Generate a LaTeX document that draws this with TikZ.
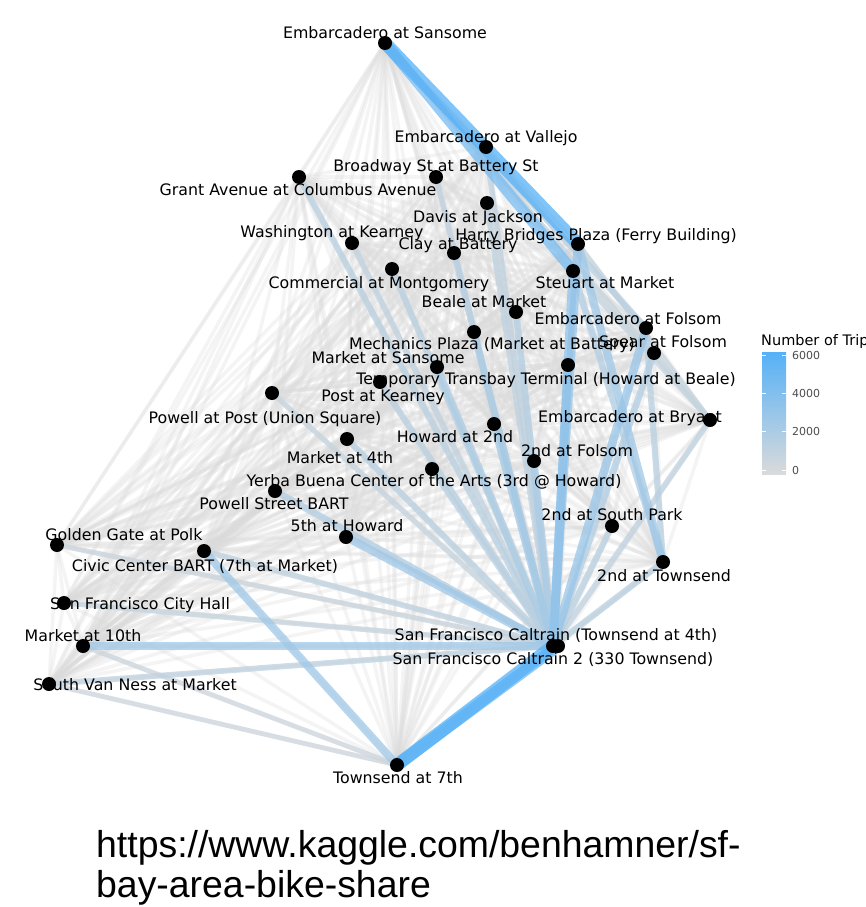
\documentclass[tikz,border=0pt]{standalone}
\usepackage{fontspec}
\setmainfont{DejaVu Sans}
\newfontfamily\urlfont{Liberation Sans}
\usetikzlibrary{positioning}
\definecolor{tripLo}{HTML}{DADADA}
\definecolor{tripHi}{HTML}{56B1F7}
\tikzset{
  stn/.style={circle,fill=black,inner sep=0pt,minimum size=14pt},
  lbl/.style={font=\fontsize{15.8}{18}\selectfont,inner sep=0pt,text height=0.7em,text depth=0pt,yshift=-2.5pt},
  mesh/.style={draw=tripLo,draw opacity=0.3,line width=3.5pt},
  trip/.style={draw=tripHi!#1!tripLo,draw opacity=0.75,line width={4pt+0.09pt*#1}},
  tick/.style={font=\fontsize{11}{13}\selectfont,inner sep=0pt,text=black!70},
  url/.style={font=\urlfont\fontsize{37.4}{40}\selectfont,inner sep=0pt},
}
\def\stns{EmbSan,EmbVal,Broad,Grant,Davis,Wash,Clay,Ferry,Comm,Steu,Beale,EmbFol,Mech,Spear,MktSan,Trans,PostK,PowPost,EmbBry,How2,Mkt4,Fol2,Yerba,PowBart,SoPark,How5,GGate,Civic,Town2,Hall,Mkt10,Cal,CalB,SVN,Town7}
\begin{document}
\begin{tikzpicture}[x=1pt,y=-1pt]
   \useasboundingbox (0,0) rectangle (866,907);
   % station positions
   \foreach \n/\x/\y in {EmbSan/385/43, EmbVal/486/147, Broad/436/177, Grant/299/177,
      Davis/487/203, Wash/352/243, Clay/454/253, Ferry/578/244, Comm/392/269,
      Steu/573/271, Beale/516/312, EmbFol/646/328, Mech/474/332, Spear/654/353,
      MktSan/437/367, Trans/568/365, PostK/380/382, PowPost/272/393, EmbBry/710/420,
      How2/494/424, Mkt4/347/439, Fol2/534/461, Yerba/432/469, PowBart/275/491,
      SoPark/612/526, How5/346/537, GGate/57/545, Civic/204/551, Town2/663/562,
      Hall/64/603, Mkt10/83/646, Cal/553/646, CalB/558/646, SVN/49/684, Town7/397/765}
      \coordinate (\n) at (\x,\y);
   % every pair of stations
   \foreach \a [count=\i] in \stns {
      \foreach \b [count=\j] in \stns {
         \ifnum\j>\i \draw[mesh] (\a) -- (\b); \fi
      }
   }
   % busy routes
   \foreach \a/\b/\w in {Town7/Mkt10/10, Town7/SVN/10, Cal/GGate/12, Cal/PowPost/15,
      Cal/Hall/15, EmbSan/EmbBry/15, EmbBry/Ferry/15, EmbBry/Steu/15, Cal/Davis/20,
      Cal/EmbVal/20, Cal/Broad/20, Cal/Civic/20, Cal/SVN/20, Cal/EmbBry/20, Cal/Wash/20,
      Cal/Clay/25, Cal/Comm/25, Cal/Grant/25, Cal/PostK/25, Cal/Mkt4/25, Cal/Yerba/25,
      Cal/SoPark/25, Cal/Town2/25, EmbSan/EmbFol/25, EmbFol/Town2/25, Cal/Beale/30,
      Cal/Spear/30, Cal/PowBart/30, Steu/Town2/30, Cal/Fol2/35, Cal/Mech/35,
      Cal/MktSan/35, Cal/How2/40, Cal/Mkt10/45, Cal/How5/45, Town7/Civic/45,
      Ferry/Town2/45, Cal/Ferry/50, Cal/Trans/50, Cal/EmbFol/50, Cal/Steu/55,
      EmbSan/Steu/75, Town7/CalB/85, EmbSan/Ferry/100, Town7/Cal/100}
      \draw[trip=\w] (\a) -- (\b);
   % station names
   \foreach \n/\x/\y/\t in {EmbSan/385/33/{Embarcadero at Sansome},
      EmbVal/486/136/{Embarcadero at Vallejo}, Broad/436/165/{Broadway St at Battery St},
      Grant/298/189/{Grant Avenue at Columbus Avenue}, Davis/478/216/{Davis at Jackson},
      Wash/332/231/{Washington at Kearney}, Clay/458/243/{Clay at Battery},
      Ferry/596/234/{Harry Bridges Plaza (Ferry Building)},
      Comm/379/282/{Commercial at Montgomery}, Steu/605/282/{Steuart at Market},
      Beale/484/301/{Beale at Market}, EmbFol/628/318/{Embarcadero at Folsom},
      Mech/492/343/{Mechanics Plaza (Market at Battery)}, Spear/663/341/{Spear at Folsom},
      MktSan/388/357/{Market at Sansome},
      Trans/546/378/{Temporary Transbay Terminal (Howard at Beale)},
      PostK/383/395/{Post at Kearney}, PowPost/265/417/{Powell at Post (Union Square)},
      EmbBry/630/416/{Embarcadero at Bryant}, How2/455/436/{Howard at 2nd},
      Mkt4/340/457/{Market at 4th}, Fol2/577/450/{2nd at Folsom},
      Yerba/434/480/{Yerba Buena Center of the Arts (3rd @ Howard)},
      PowBart/274/503/{Powell Street BART}, SoPark/612/514/{2nd at South Park},
      How5/347/525/{5th at Howard}, GGate/124/534/{Golden Gate at Polk},
      Civic/205/565/{Civic Center BART (7th at Market)}, Town2/664/575/{2nd at Townsend},
      Hall/140/603/{San Francisco City Hall}, Mkt10/83/635/{Market at 10th},
      Cal/556/634/{San Francisco Caltrain (Townsend at 4th)},
      CalB/553/658/{San Francisco Caltrain 2 (330 Townsend)},
      SVN/135/684/{South Van Ness at Market}, Town7/398/777/{Townsend at 7th}}
      \node[lbl] (\n-lbl) at (\x,\y) {\t};
   % stations
   \foreach \n in \stns
      \node[stn] (\n-dot) at (\n) {};
   % legend
   \node[font=\fontsize{14.5}{17}\selectfont,inner sep=0pt,anchor=west] (legtitle) at (761,341) {Number of Trips};
   \shade[top color=tripHi,bottom color=tripLo] (762,352) rectangle (786,474);
   \foreach \y/\v in {355/6000, 393.3/4000, 431.7/2000, 470/0} {
      \draw[white,line width=0.8pt] (762,\y) -- (766,\y) (782,\y) -- (786,\y);
      \node[tick,anchor=west] at (792,\y) {\v};
   }
   % source
   \node[url,anchor=base west] (url1) at (96,857) {https://www.kaggle.com/benhamner/sf-};
   \node[url,anchor=base west] (url2) at (96,897) {bay-area-bike-share};
\end{tikzpicture}
\end{document}
